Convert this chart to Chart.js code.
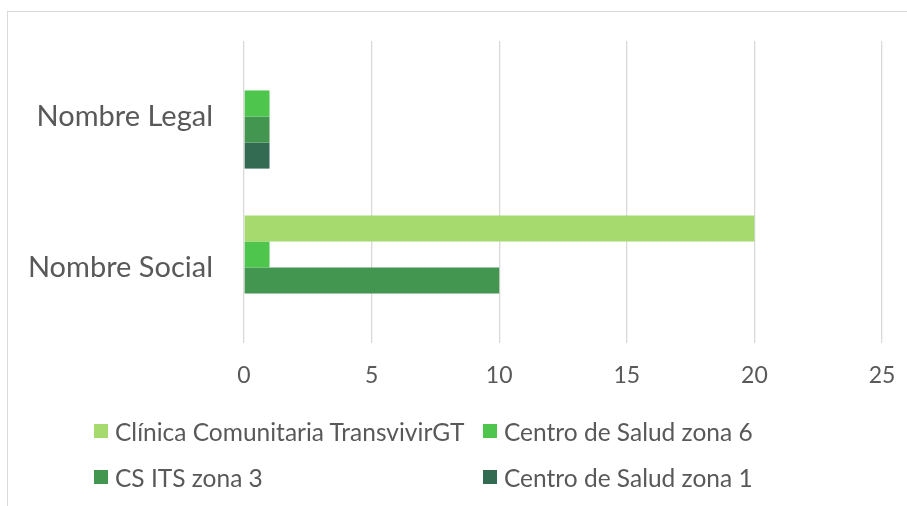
<!DOCTYPE html>
<html>
<head>
<meta charset="utf-8">
<script src="https://cdn.jsdelivr.net/npm/chart.js@4"></script>
<style>
  body { margin: 0; background: #fff; overflow: hidden; }
  #wrap { position: relative; width: 907px; height: 506px; }
  #cadre { position: absolute; left: 7px; top: 11px; width: 1000px; height: 1000px; border: 1px solid #d9d9d9; border-width: 1.5px 0 0 1.5px; }
  canvas { position: absolute; left: 0; top: 0; }
  #legende { position: absolute; left: 94px; top: 0; font-family: Lato, sans-serif; font-size: 24.5px; color: #595959; }
  .item { position: absolute; white-space: nowrap; display: flex; align-items: center; }
  .carre { width: 14px; height: 14px; margin-right: 7px; }
</style>
</head>
<body>
<div id="wrap">
  <div id="cadre"></div>
  <canvas id="graphique" width="907" height="506"></canvas>
  <div id="legende"></div>
</div>
<script>
// catégories (axe Y)
const categories = ['Nombre Legal', 'Nombre Social'];

// séries
const clinica = [0, 20];
const zona6   = [1, 1];
const zona3   = [1, 10];
const zona1   = [1, 0];

const nomsSeries = ['Clínica Comunitaria TransvivirGT', 'Centro de Salud zona 6', 'CS ITS zona 3', 'Centro de Salud zona 1'];
const couleurs = ['#a6d96e', '#4ec54c', '#439650', '#336b52'];

// graduations de l'axe X
const xMin = 0, xMax = 25, xPas = 5;

const gris = '#595959';
const police = 'Lato, sans-serif';

const series = [clinica, zona6, zona3, zona1];

const ctx = document.getElementById('graphique').getContext('2d');
const chart = new Chart(ctx, {
  type: 'bar',
  data: {
    labels: categories,
    datasets: series.map((valeurs, i) => ({
      label: nomsSeries[i],
      data: valeurs,
      backgroundColor: couleurs[i],
      borderWidth: 0,
      categoryPercentage: 0.69,
      barPercentage: 1
    }))
  },
  options: {
    indexAxis: 'y',
    responsive: false,
    animation: false,
    layout: { padding: { top: 41, right: 25, left: 0, bottom: 0 } },
    plugins: { legend: { display: false }, tooltip: { enabled: false } },
    scales: {
      x: {
        min: xMin, max: xMax,
        ticks: { stepSize: xPas, color: gris, font: { family: police, size: 23 }, padding: 19 },
        grid: { color: '#d9d9d9', lineWidth: 1.3, drawTicks: false },
        border: { display: false },
        afterFit: (s) => {
          s.height = 163; // zone sous le graphique
          s.paddingLeft = 0;
          s.paddingRight = 0;
        }
      },
      y: {
        ticks: { color: gris, font: { family: police, size: 29 }, padding: 31 },
        grid: { display: false, drawTicks: false },
        border: { display: false },
        afterFit: (s) => {
          s.width = 244;
          s.paddingTop = 0; // sinon le padding des ticks pousse la zone vers le bas
          s.paddingBottom = 0;
        }
      }
    }
  }
});

// légende en 2 colonnes comme Excel
const legende = document.getElementById('legende');
const positions = [[0, 431], [389, 431], [0, 477], [389, 477]];
chart.data.datasets.forEach((ds, i) => {
  const item = document.createElement('div');
  item.className = 'item';
  item.style.left = positions[i][0] + 'px';
  item.style.top = (positions[i][1] - 15) + 'px';
  item.style.height = '30px';
  const carre = document.createElement('span');
  carre.className = 'carre';
  carre.style.background = ds.backgroundColor;
  const texte = document.createElement('span');
  texte.textContent = ds.label;
  item.appendChild(carre);
  item.appendChild(texte);
  legende.appendChild(item);
});
</script>
</body>
</html>
